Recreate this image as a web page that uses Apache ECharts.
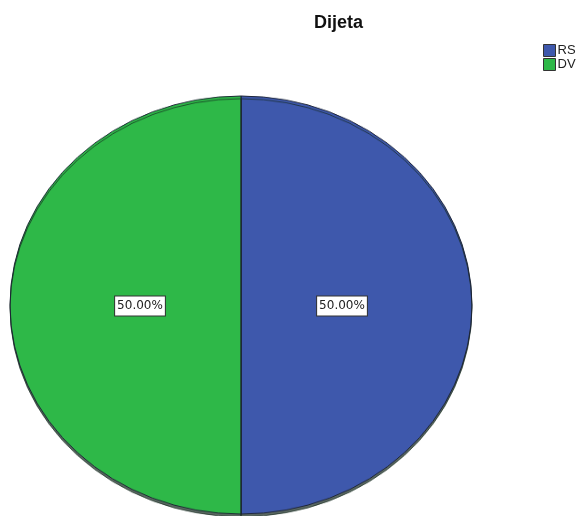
<!DOCTYPE html>
<html>
<head>
<meta charset="utf-8">
<script src="https://cdn.jsdelivr.net/npm/echarts@6/dist/echarts.min.js"></script>
<style>
  body { margin: 0; background: #fff; }
  .wrap { position: relative; width: 576px; height: 516px; overflow: hidden; }
  .layer { position: absolute; left: 0; top: 0; width: 576px; height: 516px; }
  /* SPSS draws the pie as an ellipse, so squash the pie layer vertically */
  #pie { height: 560px; transform-origin: 241px 305px; transform: scaleY(0.905); }
</style>
</head>
<body>
<div class="wrap">
  <div id="pie" class="layer"></div>
  <div id="top" class="layer"></div>
</div>
<script>
const categories = ['RS', 'DV']
const values = [50, 50]
const colors = ['#3E58AC', '#2EB848']
const titleText = 'Dijeta'

const pieChart = echarts.init(document.getElementById('pie'))
pieChart.setOption({
  animation: false,
  series: [
    {
      type: 'pie',
      center: [241, 305],
      radius: 231,
      startAngle: 90,
      clockwise: true,
      label: { show: false },
      labelLine: { show: false },
      itemStyle: {
        borderColor: '#1c2333',
        borderWidth: 1,
        shadowColor: 'rgba(20,40,30,0.7)',
        shadowBlur: 0,
        shadowOffsetY: 3
      },
      data: categories.map((c, i) => ({ name: c, value: values[i], itemStyle: { color: colors[i] } }))
    }
  ]
})

// overlay: title, legend and unsquashed labels
const topChart = echarts.init(document.getElementById('top'))
topChart.setOption({
  animation: false,
  title: {
    text: titleText,
    left: 309,
    top: 9,
    textStyle: { fontFamily: 'Liberation Sans', fontSize: 18, fontWeight: 'bold', color: '#111' }
  },
  legend: {
    orient: 'vertical',
    left: 538,
    top: 39,
    itemWidth: 12,
    itemHeight: 12,
    itemGap: 1,
    icon: 'rect',
    selectedMode: false,
    textStyle: { fontFamily: 'Liberation Sans', fontSize: 13, color: '#222', padding: [0, 0, 0, -3] },
    data: categories.map((c, i) => ({
      name: c,
      itemStyle: { color: colors[i], borderColor: '#333', borderWidth: 1 }
    }))
  },
  series: [
    {
      type: 'pie',
      center: [241, 306],
      radius: 196,
      startAngle: 90,
      clockwise: true,
      silent: true,
      label: {
        show: true,
        position: 'inside',
        formatter: p => p.percent.toFixed(2) + '%',
        fontFamily: 'DejaVu Sans',
        fontSize: 12,
        color: '#222',
        backgroundColor: '#fff',
        borderColor: '#333',
        borderWidth: 1,
        padding: [4, 2, 3, 2]
      },
      labelLine: { show: false },
      data: categories.map((c, i) => ({ name: c, value: values[i], itemStyle: { color: 'rgba(0,0,0,0)' } }))
    }
  ]
})
</script>
</body>
</html>
